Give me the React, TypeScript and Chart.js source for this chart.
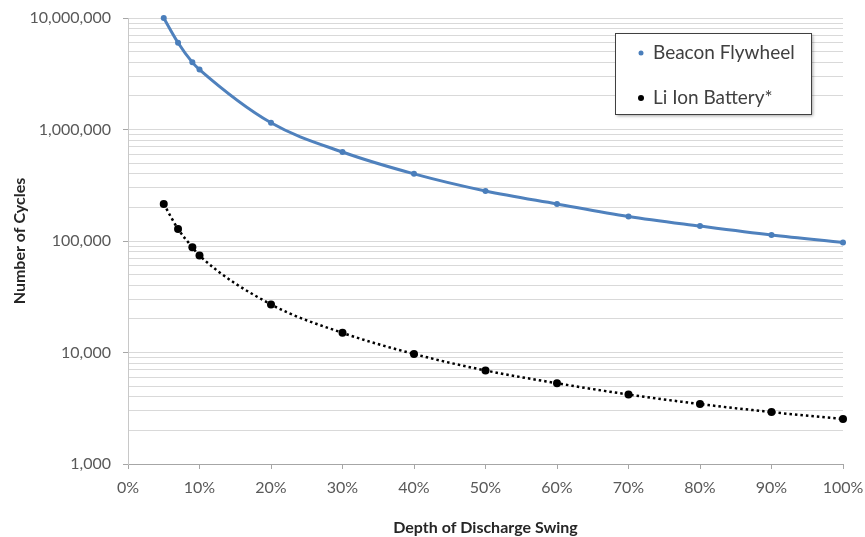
import React, { useEffect, useRef } from 'react';
import { Chart, registerables } from 'chart.js';

Chart.register(...registerables);

const depthPct = [5, 7, 9, 10, 20, 30, 40, 50, 60, 70, 80, 90, 100];
const flywheelCycles = [10000000, 6000000, 4000000, 3450000, 1150000, 628000, 400000, 281000, 215000, 166000, 136000, 113000, 97000];
const batteryCycles = [215000, 128000, 88000, 74000, 27000, 15000, 9700, 6900, 5300, 4200, 3450, 2920, 2530];
const xTickValues = [0, 10, 20, 30, 40, 50, 60, 70, 80, 90, 100];
const yDecades = [1000, 10000, 100000, 1000000, 10000000];
const seriesNames = ['Beacon Flywheel', 'Li Ion Battery*'];
const xAxisTitle = 'Depth of Discharge Swing';
const yAxisTitle = 'Number of Cycles';

const FONT = 'Lato';
const BLUE_LINE = '#4F81BD';
const BLUE_POINT = '#4A7EBB';

function isDecade(v: number) {
  const l = Math.log10(v);
  return Math.abs(l - Math.round(l)) < 1e-9;
}

const legendPlugin = {
  id: 'boxLegend',
  afterDraw(chart: any) {
    const ctx = chart.ctx as CanvasRenderingContext2D;
    const x = 615, y = 33, w = 196, h = 81;
    ctx.save();
    ctx.shadowColor = 'rgba(0,0,0,0.35)';
    ctx.shadowBlur = 3;
    ctx.shadowOffsetX = 2;
    ctx.shadowOffsetY = 2;
    ctx.fillStyle = '#ffffff';
    ctx.fillRect(x, y, w, h);
    ctx.restore();
    ctx.save();
    ctx.strokeStyle = '#404040';
    ctx.lineWidth = 1;
    ctx.strokeRect(x + 0.5, y + 0.5, w, h);
    const rows = [
      { name: seriesNames[0], color: BLUE_POINT, r: 2.5, cy: 53 },
      { name: seriesNames[1], color: '#000000', r: 3, cy: 98 },
    ];
    ctx.font = `19px ${FONT}`;
    ctx.textBaseline = 'middle';
    ctx.textAlign = 'left';
    for (const row of rows) {
      ctx.beginPath();
      ctx.fillStyle = row.color;
      ctx.arc(641, row.cy, row.r, 0, Math.PI * 2);
      ctx.fill();
      ctx.fillStyle = '#404040';
      ctx.fillText(row.name, 653, row.cy);
    }
    ctx.restore();
  },
};

export default function App() {
  const ref = useRef<HTMLCanvasElement>(null);
  useEffect(() => {
    document.body.style.margin = '0';
    document.body.style.background = '#ffffff';
    const yTicks: number[] = [];
    for (let i = 0; i < yDecades.length - 1; i++) {
      for (let m = 1; m < 10; m++) yTicks.push(yDecades[i] * m);
    }
    yTicks.push(yDecades[yDecades.length - 1]);

    const chart = new Chart(ref.current as HTMLCanvasElement, {
      type: 'line',
      data: {
        datasets: [
          {
            label: seriesNames[0],
            data: depthPct.map((d, i) => ({ x: d, y: flywheelCycles[i] })),
            borderColor: BLUE_LINE,
            backgroundColor: BLUE_POINT,
            borderWidth: 3,
            pointRadius: 3,
            pointBorderWidth: 0,
            cubicInterpolationMode: 'monotone',
            clip: false,
          },
          {
            label: seriesNames[1],
            data: depthPct.map((d, i) => ({ x: d, y: batteryCycles[i] })),
            borderColor: '#000000',
            backgroundColor: '#000000',
            borderWidth: 2.5,
            borderDash: [2.5, 3],
            pointRadius: 4,
            pointBorderWidth: 0,
            cubicInterpolationMode: 'monotone',
            clip: false,
          },
        ],
      },
      options: {
        animation: false,
        responsive: false,
        maintainAspectRatio: false,
        layout: { padding: { left: 10, right: 22, top: 18, bottom: 0 } },
        plugins: { legend: { display: false }, tooltip: { enabled: false } },
        scales: {
          x: {
            type: 'linear',
            min: 0,
            max: 100,
            afterBuildTicks: (s: any) => {
              s.ticks = xTickValues.map((v) => ({ value: v }));
            },
            afterFit: (s: any) => {
              s.height = 73;
              s.paddingLeft = 0;
              s.paddingRight = 0;
            },
            ticks: {
              callback: (v: any) => `${v}%`,
              color: '#595959',
              font: { family: FONT, size: 16 },
              padding: 9,
              maxRotation: 0,
            },
            grid: {
              drawOnChartArea: false,
              tickLength: 5,
              color: '#a6a6a6',
            },
            border: { color: '#a6a6a6' },
            title: {
              display: true,
              text: xAxisTitle,
              color: '#262626',
              font: { family: FONT, size: 16, weight: 'bold' },
              padding: { top: 0, bottom: 0 },
            },
          },
          y: {
            type: 'logarithmic',
            min: 1000,
            max: 10000000,
            afterBuildTicks: (s: any) => {
              s.ticks = yTicks.map((v) => ({ value: v }));
            },
            afterFit: (s: any) => {
              s.width = 118;
              s.paddingTop = 0;
              s.paddingBottom = 0;
            },
            ticks: {
              autoSkip: false,
              callback: (v: any) => (isDecade(Number(v)) ? Number(v).toLocaleString('en-US') : ''),
              color: '#595959',
              font: { family: FONT, size: 16 },
              padding: 12,
            },
            grid: {
              color: '#d9d9d9',
              tickLength: 5,
              tickColor: (c: any) => (c.tick && isDecade(c.tick.value) ? '#a6a6a6' : 'rgba(0,0,0,0)'),
            },
            border: { color: '#c8c8c8' },
            title: {
              display: true,
              text: yAxisTitle,
              color: '#262626',
              font: { family: FONT, size: 16, weight: 'bold' },
              padding: 0,
            },
          },
        },
      },
      plugins: [legendPlugin],
    } as any);
    return () => chart.destroy();
  }, []);
  return (
    <div style={{ width: 865, height: 537 }}>
      <canvas ref={ref} width={865} height={537} style={{ display: 'block', width: 865, height: 537 }} />
    </div>
  );
}
